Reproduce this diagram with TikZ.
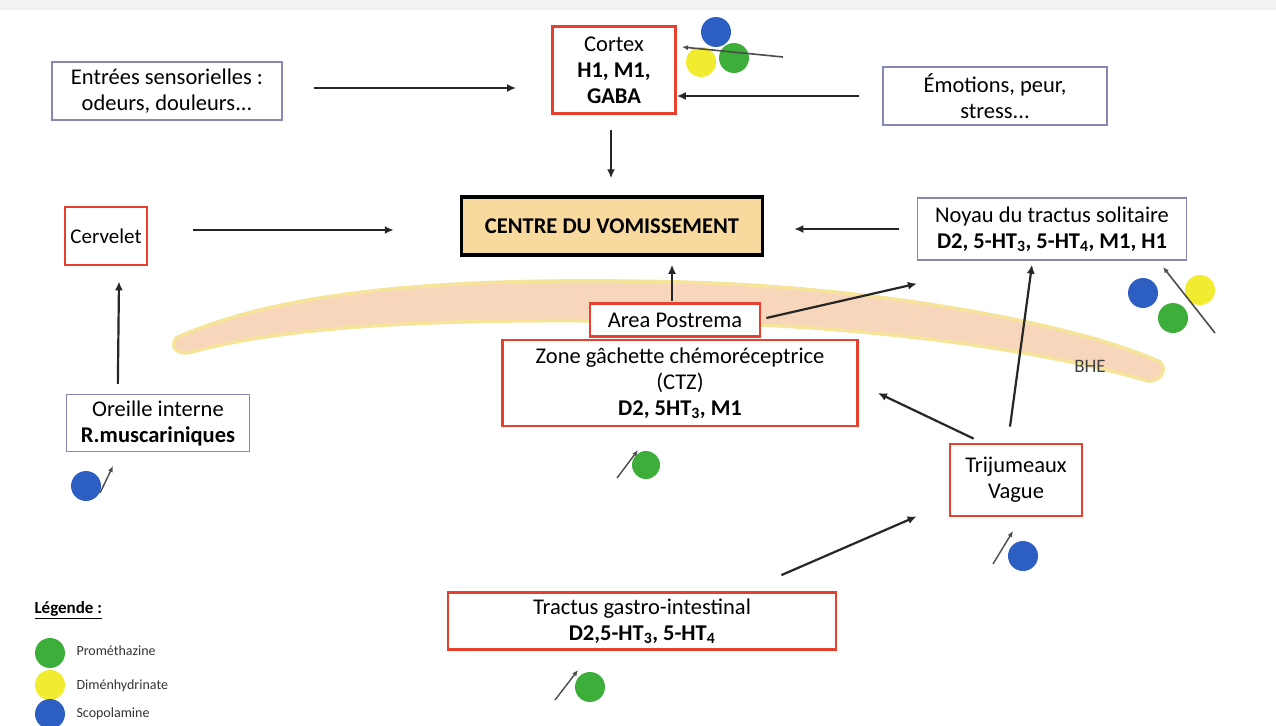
\documentclass[tikz,border=0pt]{standalone}
\usepackage{fontspec}
\setmainfont{Carlito}
\usetikzlibrary{calc,arrows.meta}
\definecolor{boxred}{HTML}{E8402F}
\definecolor{boxblue}{HTML}{8587B5}
\definecolor{centrefill}{HTML}{F9DA9E}
\definecolor{bhefill}{HTML}{F8D6BC}
\definecolor{bheline}{HTML}{F6E49A}
\definecolor{drgreen}{HTML}{3DAE3A}
\definecolor{dryellow}{HTML}{F2EC30}
\definecolor{drblue}{HTML}{2D5EC2}
\newcommand\mainfs{\fontsize{22.5}{26}\selectfont}
\begin{document}
\begin{tikzpicture}[x=1pt,y=-1pt,
  redbox/.style={draw=boxred, line width=2.8pt, fill=white, align=center, inner sep=0pt, font=\mainfs},
  bluebox/.style={draw=boxblue, line width=1.3pt, fill=white, align=center, inner sep=0pt, font=\mainfs},
  arr/.style={-{Latex[length=9pt,width=8pt]}, line width=2.2pt, black!85},
  drugarr/.style={-{Latex[length=6pt,width=5pt]}, line width=1.4pt, black!70},
  drug/.style={circle, inner sep=0pt, minimum size=30pt},
  leg/.style={anchor=west, font=\fontsize{14}{16}\selectfont, text=black!80}]
\useasboundingbox (0,0) rectangle (1276,725);
\fill[white] (0,0) rectangle (1276,725);
\fill[black!5] (0,0) rectangle (1276,10);

% BHE band
\filldraw[fill=bhefill, draw=bheline, line width=3.5pt]
  (176,338) .. controls (300,282) and (500,278) .. (680,282)
  .. controls (880,287) and (1080,325) .. (1160,362)
  .. controls (1168,370) and (1160,382) .. (1148,381)
  .. controls (1050,352) and (880,326) .. (680,322)
  .. controls (480,318) and (300,322) .. (192,352)
  .. controls (176,356) and (170,346) .. (176,338) -- cycle;
\node[font=\fontsize{19}{22}\selectfont, text=black!75] (bhe) at (1090,366) {BHE};

% nodes
\node[bluebox, minimum width=230pt, minimum height=58pt] (entrees) at (167,91) {Entrées sensorielles :\\odeurs, douleurs...};
\node[redbox, minimum width=123pt, minimum height=87pt] (cortex) at (614,70) {Cortex\\\textbf{H1, M1,}\\\textbf{GABA}};
\node[bluebox, minimum width=224pt, minimum height=58pt] (emotions) at (995,96) {Émotions, peur,\\stress...};
\node[draw=black, line width=3.5pt, fill=centrefill, minimum width=301pt, minimum height=58pt, font=\mainfs\bfseries] (centre) at (612,226) {CENTRE DU VOMISSEMENT};
\node[redbox, minimum width=82pt, minimum height=58pt, font=\fontsize{21}{26}\selectfont] (cervelet) at (106,236) {Cervelet};
\node[bluebox, minimum width=269pt, minimum height=62pt] (nts) at (1052,229) {Noyau du tractus solitaire\\\textbf{D2, 5-HT\textsubscript{3}, 5-HT\textsubscript{4}, M1, H1}};
\node[redbox, minimum width=170pt, minimum height=33pt] (ap) at (675,320) {Area Postrema};
\node[redbox, minimum width=355pt, minimum height=86pt] (ctz) at (680,383) {Zone gâchette chémoréceptrice\\(CTZ)\\\textbf{D2, 5HT\textsubscript{3}, M1}};
\node[bluebox, minimum width=183pt, minimum height=57pt] (oreille) at (158,423) {Oreille interne\\\textbf{R.muscariniques}};
\node[redbox, minimum width=132pt, minimum height=72pt] (trij) at (1016,480) {Trijumeaux\\Vague};
\node[redbox, minimum width=388pt, minimum height=57pt] (gi) at (642,621) {Tractus gastro-intestinal\\\textbf{D2,5-HT\textsubscript{3}, 5-HT\textsubscript{4}}};

% main arrows
\draw[arr] ($(entrees.east)+(31,-3)$) -- ($(cortex.west)+(-35,18)$);
\draw[arr] ($(emotions.west)+(-23,0)$) -- ($(cortex.east)+(0,26)$);
\draw[arr] ($(cortex.south)+(-3,15)$) -- ($(centre.north)+(-1,-17)$);
\draw[arr] ($(cervelet.east)+(45,-6)$) -- ($(centre.west)+(-66,4)$);
\draw[arr] ($(nts.west)+(-18,0)$) -- ($(centre.east)+(30,3)$);
\coordinate (apTop) at ($(ap.north)+(-3,-1)$);
\coordinate (centreS) at ($(centre.south)+(0,8)$);
\draw[arr] (apTop) -- (apTop |- centreS);
\draw[arr] ($(ap.east)+(5,-2)$) -- ($(nts.south west)+(0,23)$);
\draw[arr] ($(oreille.north west)+(52,-10)$) -- ($(cervelet.south)+(13,15)$);
\draw[arr] ($(trij.north west)+(25,-4)$) -- ($(ctz.east)+(19,10)$);
\draw[arr] ($(trij.north)+(-6,-16)$) -- ($(nts.south)+(-20,4)$);
\draw[arr] ($(gi.north east)+(-56,-16)$) -- ($(trij.south west)+(-32,-1)$);

% drug markers
\node[drug, fill=dryellow] (cY) at (701,62) {};
\node[drug, fill=drgreen] (cG) at (734,58) {};
\node[drug, fill=drblue] (cB) at (716,32) {};
\coordinate (cA1) at (783,57);
\coordinate (cA2) at (682,47);
\draw[drugarr, line width=1.6pt] (cA1) -- (cA2);

\node[drug, fill=drblue] (nB) at (1143,293) {};
\node[drug, fill=dryellow] (nY) at (1200,290) {};
\node[drug, fill=drgreen] (nG) at (1173,318) {};
\coordinate (nA1) at (1215,333);
\coordinate (nA2) at (1163,267);
\draw[drugarr, line width=1.6pt] (nA1) -- (nA2);

\node[drug, fill=drgreen, minimum size=28pt] (zG) at (646,465) {};
\coordinate (zA1) at (617,478);
\coordinate (zA2) at (638,450);
\draw[drugarr] (zA1) -- (zA2);

\node[drug, fill=drblue] (oB) at (86,486) {};
\coordinate (oA1) at (100,493);
\coordinate (oA2) at (113,466);
\draw[drugarr] (oA1) -- (oA2);

\node[drug, fill=drblue] (tB) at (1023,556) {};
\coordinate (tA1) at (993,564);
\coordinate (tA2) at (1013,531);
\draw[drugarr] (tA1) -- (tA2);

\node[drug, fill=drgreen] (gG) at (590,687) {};
\coordinate (gA1) at (555,700);
\coordinate (gA2) at (578,670);
\draw[drugarr] (gA1) -- (gA2);

% legend
\node[anchor=west, font=\fontsize{17}{19}\selectfont\bfseries] (legt) at (31,610) {\underline{Légende :}};
\node[drug, fill=drgreen] (lG) at (50,653) {};
\node[drug, fill=dryellow] (lY) at (50,685) {};
\node[drug, fill=drblue] (lB) at (50,714) {};
\node[leg] (lGt) at (73,651) {Prométhazine};
\node[leg] (lYt) at (73,686) {Diménhydrinate};
\node[leg] (lBt) at (73,714) {Scopolamine};
\end{tikzpicture}
\end{document}
